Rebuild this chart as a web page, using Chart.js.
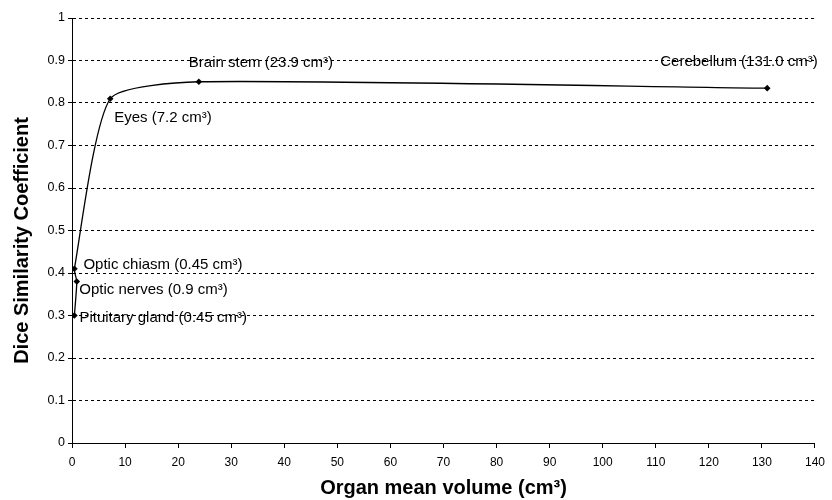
<!DOCTYPE html>
<html>
<head>
<meta charset="utf-8">
<script src="https://cdn.jsdelivr.net/npm/chart.js@4/dist/chart.umd.min.js"></script>
<style>
  html, body { margin: 0; padding: 0; background: #ffffff; }
  #wrap { width: 832px; height: 500px; }
</style>
</head>
<body>
<div id="wrap"><canvas id="c" width="832" height="500"></canvas></div>
<script>
// Data (order follows the drawn curve)
const organs = ["Pituitary gland (0.45 cm³)", "Optic nerves (0.9 cm³)", "Optic chiasm (0.45 cm³)", "Eyes (7.2 cm³)", "Brain stem (23.9 cm³)", "Cerebellum (131.0 cm³)"];
const volumes = [0.45, 0.9, 0.45, 7.2, 23.9, 131.0];
const dice = [0.30, 0.38, 0.41, 0.81, 0.85, 0.835];
const xTicks = [0, 10, 20, 30, 40, 50, 60, 70, 80, 90, 100, 110, 120, 130, 140];
const yTicks = [0, 0.1, 0.2, 0.3, 0.4, 0.5, 0.6, 0.7, 0.8, 0.9, 1];
const xTitle = 'Organ mean volume (cm³)';
const yTitle = 'Dice Similarity Coefficient';

// label offsets in pixels from each marker (styling only)
const labelOffsets = [[5, 2], [2.5, 8], [9, -4], [4, 19], [-10, -19], [-107, -26]];

const pointsData = volumes.map((v, i) => ({ x: v, y: dice[i] }));
const FONT = '"Liberation Sans", Arial, sans-serif';

const labelPlugin = {
  id: 'pointLabels',
  afterDatasetsDraw(chart) {
    const ctx = chart.ctx;
    const meta = chart.getDatasetMeta(0);
    ctx.save();
    ctx.font = '15px ' + FONT;
    ctx.fillStyle = '#000';
    ctx.textAlign = 'left';
    ctx.textBaseline = 'middle';
    meta.data.forEach((el, i) => {
      const [dx, dy] = labelOffsets[i];
      ctx.fillText(organs[i], el.x + dx, el.y + dy);
    });
    ctx.restore();
  }
};

// vertical axis title, placed slightly below the plot's vertical centre
const yTitlePlugin = {
  id: 'yTitle',
  afterDraw(chart) {
    const ctx = chart.ctx;
    const area = chart.chartArea;
    ctx.save();
    ctx.translate(22, (area.top + area.bottom) / 2 + 10);
    ctx.rotate(-Math.PI / 2);
    ctx.font = 'bold 20px ' + FONT;
    ctx.fillStyle = '#000';
    ctx.textAlign = 'center';
    ctx.textBaseline = 'middle';
    ctx.fillText(yTitle, 0, 0);
    ctx.restore();
  }
};

new Chart(document.getElementById('c'), {
  type: 'scatter',
  data: {
    datasets: [{
      data: pointsData,
      showLine: true,
      borderColor: '#000',
      borderWidth: 1.3,
      backgroundColor: '#000',
      pointStyle: 'rectRot',
      pointRadius: 3.3,
      pointBorderWidth: 0,
      tension: 0.2,
      cubicInterpolationMode: 'default'
    }]
  },
  options: {
    responsive: false,
    animation: false,
    devicePixelRatio: 1,
    layout: { padding: { top: 18, right: 14, left: 0, bottom: 0 } },
    plugins: { legend: { display: false }, tooltip: { enabled: false } },
    scales: {
      x: {
        type: 'linear',
        min: 0, max: 140,
        afterBuildTicks(s) { s.ticks = xTicks.map(v => ({ value: v })); },
        afterFit(s) { s.height = 57; },
        border: { display: true, color: '#000', width: 1 },
        grid: { drawOnChartArea: false, drawTicks: true, tickLength: 5, color: '#000' },
        ticks: { color: '#000', font: { family: FONT, size: 12 }, padding: 7, maxRotation: 0 },
        title: {
          display: true,
          text: xTitle,
          color: '#000',
          font: { family: FONT, size: 20, weight: 'bold' },
          padding: { top: 0, bottom: 0 }
        }
      },
      y: {
        type: 'linear',
        min: 0, max: 1,
        afterBuildTicks(s) { s.ticks = yTicks.map(v => ({ value: v })); },
        afterFit(s) { s.width = 72; },
        border: { display: true, color: '#000', width: 1, dash: [3, 3] },
        grid: { color: '#000', lineWidth: 1, tickBorderDash: [], drawTicks: true, tickLength: 4 },
        ticks: { color: '#000', font: { family: FONT, size: 12.5 }, padding: 3,
          callback: v => String(Math.round(v * 10) / 10) },
        title: { display: false }
      }
    }
  },
  plugins: [labelPlugin, yTitlePlugin]
});
</script>
</body>
</html>
